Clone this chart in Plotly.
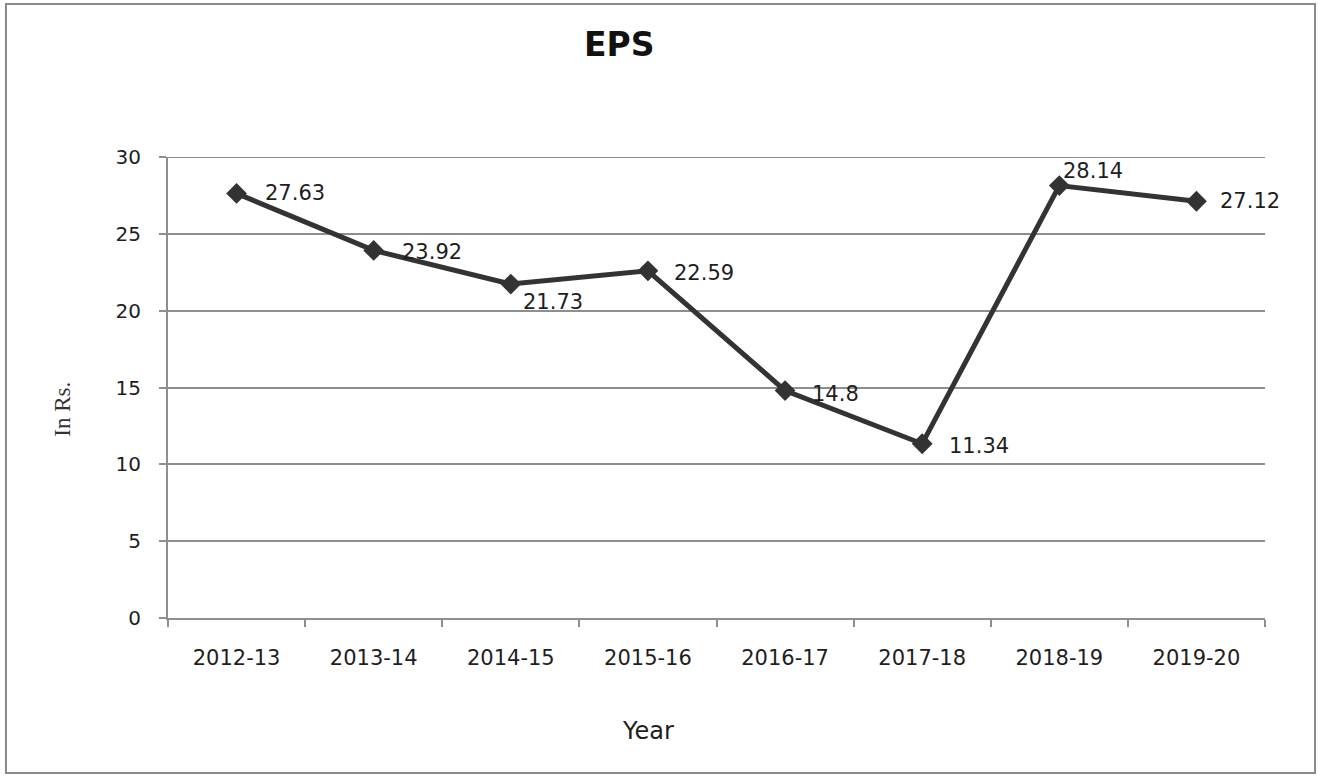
import plotly.graph_objects as go

# Earnings per share by financial year
years = ["2012-13", "2013-14", "2014-15", "2015-16", "2016-17", "2017-18", "2018-19", "2019-20"]
eps = [27.63, 23.92, 21.73, 22.59, 14.8, 11.34, 28.14, 27.12]
label_text = ["27.63", "23.92", "21.73", "22.59", "14.8", "11.34", "28.14", "27.12"]
y_ticks = [0, 5, 10, 15, 20, 25, 30]
y_max = 30

# per-label pixel offsets relative to the marker (x, y)
label_shift = [(26, 0), (26, -2), (10, -18), (24, -2), (25, -3), (25, -2), (2, 15), (22, 0)]

LINE = "#333333"
GRID = "#8e8e8e"
FONT = "DejaVu Sans"

fig = go.Figure()
fig.add_trace(go.Scatter(
    x=years, y=eps, mode="lines+markers",
    line=dict(color=LINE, width=5),
    marker=dict(symbol="diamond", size=16, color=LINE),
    showlegend=False, hoverinfo="x+y",
))

annotations = []
for yr, v, txt, (dx, dy) in zip(years, eps, label_text, label_shift):
    annotations.append(dict(
        x=yr, y=v, xref="x", yref="y", text=txt, showarrow=False,
        xanchor="left", yanchor="middle", xshift=dx, yshift=dy,
        font=dict(family=FONT, size=21, color="#1e1e1e"),
    ))

annotations += [
    dict(x=0.412, y=1.243, xref="paper", yref="paper", text="<b>EPS</b>", showarrow=False,
         xanchor="center", yanchor="middle", font=dict(family=FONT, size=33, color="#111111")),
    dict(x=-0.0965, y=0.452, xref="paper", yref="paper", text="In Rs.", showarrow=False,
         textangle=-90, xanchor="center", yanchor="middle",
         font=dict(family="Liberation Serif", size=23, color="#333333")),
    dict(x=0.438, y=-0.245, xref="paper", yref="paper", text="Year", showarrow=False,
         xanchor="center", yanchor="middle", font=dict(family=FONT, size=24, color="#1e1e1e")),
]

shapes = [
    # outer frame
    dict(type="rect", xref="paper", yref="paper",
         x0=-0.1477, x1=1.0456, y0=-0.336, y1=1.332,
         line=dict(color="#8a8a8a", width=2), layer="below"),
    # gridline at the top of the value range, with its tick
    dict(type="line", xref="paper", yref="y", x0=-0.0064, x1=1, y0=y_max, y1=y_max,
         line=dict(color=GRID, width=2), layer="below"),
]

fig.update_layout(
    width=1326, height=780,
    margin=dict(l=168, r=61, t=157, b=162),
    paper_bgcolor="white", plot_bgcolor="white",
    annotations=annotations,
    shapes=shapes,
    xaxis=dict(
        type="category", categoryorder="array", categoryarray=years,
        range=[-0.5, len(years) - 0.5],
        showgrid=False, showline=True, linecolor=GRID, linewidth=2,
        ticks="outside", tickson="boundaries", ticklen=7, tickcolor=GRID, tickwidth=2,
        tickfont=dict(family=FONT, size=21, color="#1e1e1e"),
        ticklabelstandoff=20,
        zeroline=False,
    ),
    yaxis=dict(
        range=[0, y_max], tickvals=y_ticks,
        showgrid=True, gridcolor=GRID, gridwidth=2,
        showline=True, linecolor=GRID, linewidth=2,
        ticks="outside", ticklen=7, tickcolor=GRID, tickwidth=2,
        tickfont=dict(family=FONT, size=20, color="#1e1e1e"),
        ticklabelstandoff=14,
        zeroline=False,
    ),
)

fig.write_html("out.html")
